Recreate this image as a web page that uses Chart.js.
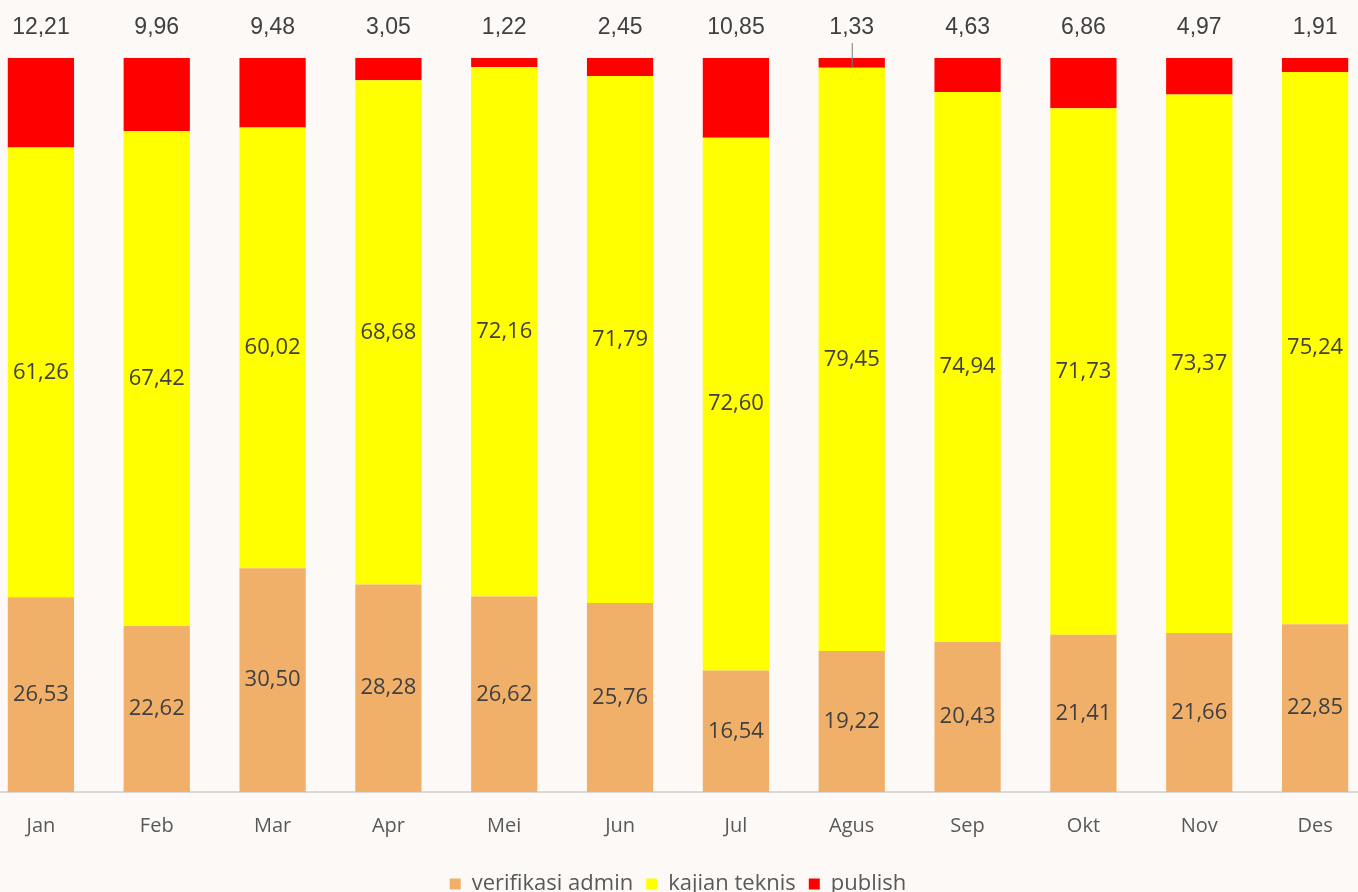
<!DOCTYPE html>
<html>
<head>
<meta charset="utf-8">
<script src="https://cdn.jsdelivr.net/npm/chart.js@4.4.1/dist/chart.umd.min.js"></script>
<style>
    html, body { margin: 0; padding: 0; background: #fcf9f7; overflow: hidden; width: 1358px; height: 892px; }
    #wrap { position: absolute; left: -17px; top: 0; width: 1390px; height: 905px; }
</style>
</head>
<body>
<div id="wrap"><canvas id="chart"></canvas></div>
<script>
const months = ["Jan", "Feb", "Mar", "Apr", "Mei", "Jun", "Jul", "Agus", "Sep", "Okt", "Nov", "Des"];
const verifikasiAdmin = [26.53, 22.62, 30.50, 28.28, 26.62, 25.76, 16.54, 19.22, 20.43, 21.41, 21.66, 22.85];
const kajianTeknis = [61.26, 67.42, 60.02, 68.68, 72.16, 71.79, 72.60, 79.45, 74.94, 71.73, 73.37, 75.24];
const publish = [12.21, 9.96, 9.48, 3.05, 1.22, 2.45, 10.85, 1.33, 4.63, 6.86, 4.97, 1.91];
const leaderMonths = ["Agus"];

const fmt = v => v.toFixed(2).replace('.', ',');

// value labels: inside for the lower two series, above the bar for publish
const valueLabels = {
    id: 'valueLabels',
    afterDatasetsDraw(chart) {
        const ctx = chart.ctx;
        ctx.save();
        ctx.textAlign = 'center';
        ctx.textBaseline = 'middle';
        chart.data.datasets.forEach((ds, di) => {
            const meta = chart.getDatasetMeta(di);
            meta.data.forEach((bar, i) => {
                const p = bar.getProps(['x', 'y', 'base'], true);
                ctx.fillStyle = '#404040';
                if (di < 2) {
                    ctx.font = '22px "Open Sans"';
                    ctx.fillText(fmt(ds.data[i]), p.x, (p.y + p.base) / 2);
                } else {
                    ctx.font = '23px "Liberation Sans"';
                    ctx.fillText(fmt(ds.data[i]), p.x, 28);
                    if (leaderMonths.includes(chart.data.labels[i])) {
                        ctx.strokeStyle = '#7f7f7f';
                        ctx.lineWidth = 1;
                        ctx.beginPath();
                        ctx.moveTo(p.x + 0.5, 43);
                        ctx.lineTo(p.x + 0.5, p.base);
                        ctx.stroke();
                    }
                }
            });
        });
        ctx.restore();
    }
};

new Chart(document.getElementById('chart'), {
    type: 'bar',
    data: {
        labels: months,
        datasets: [{
            label: 'verifikasi admin',
            data: verifikasiAdmin,
            backgroundColor: '#f1b06a'
        }, {
            label: 'kajian teknis',
            data: kajianTeknis,
            backgroundColor: '#ffff00'
        }, {
            label: 'publish',
            data: publish,
            backgroundColor: '#ff0000'
        }]
    },
    options: {
        responsive: true,
        maintainAspectRatio: false,
        animation: false,
        categoryPercentage: 1,
        barPercentage: 0.572,
        layout: {
            padding: { top: 58, bottom: 0, left: 0, right: 0 }
        },
        plugins: {
            tooltip: { enabled: false },
            legend: {
                position: 'bottom',
                labels: {
                    boxWidth: 11,
                    boxHeight: 11,
                    padding: 13,
                    color: '#595959',
                    font: { size: 22, family: '"Open Sans"' }
                }
            }
        },
        scales: {
            x: {
                stacked: true,
                grid: { display: false, drawTicks: false },
                border: { display: true, color: '#d9d9d9', width: 2 },
                ticks: {
                    padding: 22,
                    color: '#595959',
                    font: { size: 20, family: '"Open Sans"' }
                }
            },
            y: {
                stacked: true,
                display: false,
                min: 0,
                max: 100
            }
        }
    },
    plugins: [valueLabels]
});
</script>
</body>
</html>
